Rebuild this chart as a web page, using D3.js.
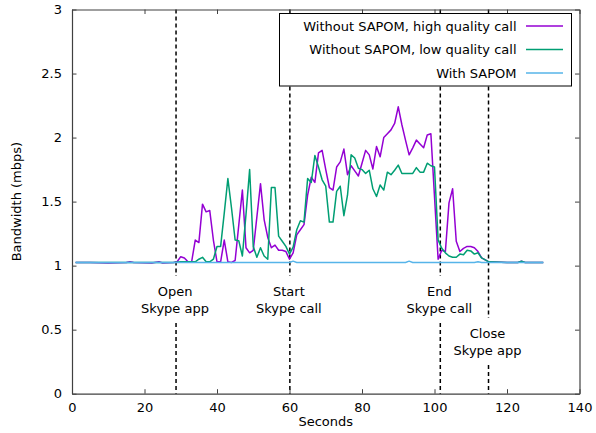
<!DOCTYPE html>
<html>
<head>
<meta charset="utf-8">
<script src="https://cdn.jsdelivr.net/npm/d3@7"></script>
<style>
  body { margin: 0; background: #fff; }
  svg text { font-family: "DejaVu Sans", sans-serif; fill: #000; }
</style>
</head>
<body>
<div id="chart"></div>
<script>
// Chart size
let w = 596;
let h = 433;
let margin = {top: 9.5, right: 16.5, bottom: 39.3, left: 72};
let fontSize = "13px";

// series: Without SAPOM, high quality call
let highT = [1, 5, 10, 15, 16, 17, 22, 24, 25, 28, 29, 30, 31, 32, 33, 34, 35, 36, 37, 38, 39, 40,
  41, 42, 43, 44, 45, 47, 48, 49, 50, 52, 53, 54, 55, 56, 57, 58, 59, 60, 61, 62, 63, 64, 65, 66,
  67, 68, 69, 70, 71, 72, 73, 74, 75, 76, 77, 78, 79, 80, 81, 82, 83, 84, 85, 86, 87, 88, 89, 90,
  91, 92, 93, 94, 95, 96, 97, 98, 99, 101, 102, 103, 104, 105, 106, 107, 108, 109, 110, 111, 112,
  113, 114, 115, 120, 123, 124, 125, 130];
let highV = [1.025, 1.025, 1.02, 1.025, 1.03, 1.025, 1.02, 1.03, 1.02, 1.025, 1.03, 1.07, 1.06, 1.03,
  1.03, 1.2, 1.18, 1.48, 1.42, 1.43, 1.2, 1.03, 1.03, 1.2, 1.03, 1.025, 1.04, 1.59, 1.14, 1.1, 1.12,
  1.64, 1.36, 1.22, 1.14, 1.16, 1.12, 1.12, 1.11, 1.05, 1.1, 1.24, 1.28, 1.32, 1.55, 1.69, 1.65, 1.88,
  1.9, 1.75, 1.61, 1.59, 1.77, 1.81, 1.91, 1.71, 1.78, 1.74, 1.7, 1.8, 1.9, 1.865, 1.755, 1.93, 1.85,
  2.0, 2.03, 2.06, 2.11, 2.24, 2.1, 1.98, 1.865, 1.92, 1.98, 1.95, 1.92, 2.02, 2.03, 1.05, 1.12, 1.11,
  1.49, 1.6, 1.19, 1.11, 1.135, 1.15, 1.15, 1.14, 1.11, 1.06, 1.045, 1.03, 1.025, 1.025, 1.035, 1.025,
  1.025];

// series: Without SAPOM, low quality call
let lowT = [1, 10, 20, 28, 30, 34, 35, 36, 37, 38, 39, 40, 41, 42, 43, 44, 45, 46, 47, 48, 49, 50,
  51, 52, 53, 54, 55, 56, 57, 58, 59, 60, 61, 62, 63, 64, 65, 66, 67, 68, 69, 70, 71, 72, 73, 74,
  75, 76, 77, 78, 79, 80, 81, 82, 83, 84, 85, 86, 87, 88, 89, 90, 91, 92, 93, 94, 95, 96, 97, 98,
  99, 100, 101, 102, 103, 104, 105, 106, 107, 108, 109, 110, 111, 112, 113, 114, 115, 120, 123,
  124, 125, 130];
let lowV = [1.025, 1.025, 1.025, 1.025, 1.03, 1.03, 1.05, 1.065, 1.03, 1.03, 1.05, 1.15, 1.15, 1.41,
  1.68, 1.45, 1.2, 1.195, 1.075, 1.4, 1.75, 1.15, 1.065, 1.14, 1.075, 1.05, 1.61, 1.61, 1.23, 1.19,
  1.15, 1.09, 1.145, 1.28, 1.35, 1.34, 1.68, 1.65, 1.86, 1.77, 1.67, 1.62, 1.34, 1.34, 1.58, 1.62,
  1.39, 1.55, 1.865, 1.84, 1.76, 1.75, 1.72, 1.745, 1.6, 1.54, 1.63, 1.59, 1.73, 1.71, 1.745, 1.785,
  1.72, 1.72, 1.72, 1.72, 1.765, 1.73, 1.73, 1.8, 1.78, 1.77, 1.2, 1.135, 1.1, 1.075, 1.065, 1.065,
  1.09, 1.085, 1.12, 1.115, 1.09, 1.1, 1.06, 1.045, 1.03, 1.025, 1.025, 1.035, 1.025, 1.025];

// series: With SAPOM
let sapomT = [1, 20, 40, 60, 61, 62, 92, 93, 94, 111, 112, 113, 130];
let sapomV = [1.025, 1.025, 1.025, 1.025, 1.035, 1.025, 1.025, 1.035, 1.025, 1.025, 1.03, 1.025, 1.025];

let seriesNames = ["Without SAPOM, high quality call", "Without SAPOM, low quality call", "With SAPOM"];
let seriesColors = ["#9400d3", "#009e73", "#56b4e9"];

// event markers
let eventT = [28.7, 60.1, 101.6, 114.9];
let eventLabels = [["Open", "Skype app"], ["Start", "Skype call"], ["End", "Skype call"], ["Close", "Skype app"]];
let eventLabelY = [296, 296, 296, 338];   // baseline of first label line

let xTicks = [0, 20, 40, 60, 80, 100, 120, 140];
let yTicks = [0, 0.5, 1, 1.5, 2, 2.5, 3];

var x = d3.scaleLinear().domain([0, 140]).range([margin.left, w - margin.right]);
var y = d3.scaleLinear().domain([0, 3]).range([h - margin.bottom, margin.top]);

var svg = d3.select("#chart").append("svg")
            .attr("width", w)
            .attr("height", h);

// dashed event lines, broken around their labels
eventT.forEach(function(t, i) {
    let top = eventLabelY[i] - 20;
    let bottom = eventLabelY[i] + 27;
    [[y(3), top], [bottom, y(0)]].forEach(function(seg) {
        svg.append("line")
           .attr("x1", x(t)).attr("x2", x(t))
           .attr("y1", seg[0]).attr("y2", seg[1])
           .attr("stroke", "#000")
           .attr("stroke-width", 1.5)
           .attr("stroke-dasharray", "4,3");
    });
    svg.append("text")
       .attr("text-anchor", "middle")
       .style("font-size", fontSize)
       .selectAll("tspan")
       .data(eventLabels[i])
       .enter()
       .append("tspan")
       .attr("x", x(t) - 1)
       .attr("y", function(d, j) { return eventLabelY[i] + j * 17; })
       .text(function(d) { return d; });
});

// series lines, plotted in legend order (later ones on top)
var line = d3.line()
             .x(function(d) { return x(d[0]); })
             .y(function(d) { return y(d[1]); });

let allSeries = [d3.zip(highT, highV), d3.zip(lowT, lowV), d3.zip(sapomT, sapomV)];

allSeries.forEach(function(s, i) {
    svg.append("path")
       .datum(s)
       .attr("d", line)
       .attr("fill", "none")
       .attr("stroke", seriesColors[i])
       .attr("stroke-width", 1.5)
       .attr("stroke-linejoin", "round");
});

// axes, ticks on all four sides pointing inward
var axisColor = "#404040";
var tickLen = 4.5;
var fmt = function(d) { return String(d); };

svg.append("g")
   .attr("transform", "translate(0," + y(0) + ")")
   .call(d3.axisBottom(x).tickValues(xTicks).tickSizeInner(-tickLen).tickSizeOuter(0).tickPadding(9).tickFormat(fmt))
   .call(styleAxis);
svg.append("g")
   .attr("transform", "translate(0," + y(3) + ")")
   .call(d3.axisTop(x).tickValues(xTicks).tickSizeInner(-tickLen).tickSizeOuter(0).tickFormat(""))
   .call(styleAxis);
svg.append("g")
   .attr("transform", "translate(" + x(0) + ",0)")
   .call(d3.axisLeft(y).tickValues(yTicks).tickSizeInner(-tickLen).tickSizeOuter(0).tickPadding(10).tickFormat(fmt))
   .call(styleAxis);
svg.append("g")
   .attr("transform", "translate(" + x(140) + ",0)")
   .call(d3.axisRight(y).tickValues(yTicks).tickSizeInner(-tickLen).tickSizeOuter(0).tickFormat(""))
   .call(styleAxis);

function styleAxis(g) {
    g.select(".domain").attr("stroke", axisColor).attr("stroke-width", 1.2);
    g.selectAll(".tick line").attr("stroke", axisColor).attr("stroke-width", 1);
    g.selectAll(".tick text")
     .style("font-family", "DejaVu Sans, sans-serif")
     .style("font-size", fontSize)
     .attr("fill", "#000");
}

// axis titles
svg.append("text")
   .attr("text-anchor", "middle")
   .style("font-size", fontSize)
   .attr("x", (x(0) + x(140)) / 2)
   .attr("y", 426)
   .text("Seconds");

svg.append("text")
   .attr("text-anchor", "middle")
   .style("font-size", fontSize)
   .attr("transform", "translate(21," + y(1.5) + ") rotate(-90)")
   .text("Bandwidth (mbps)");

// legend
var legend = svg.append("g");
legend.append("rect")
      .attr("x", 279.5).attr("y", 13.5)
      .attr("width", 292).attr("height", 72.5)
      .attr("fill", "#fff")
      .attr("stroke", "#000")
      .attr("stroke-width", 1);

seriesNames.forEach(function(name, i) {
    let ly = 26 + i * 23.5;
    legend.append("text")
          .attr("x", 516.5)
          .attr("y", ly + 4.5)
          .attr("text-anchor", "end")
          .style("font-size", fontSize)
          .text(name);
    legend.append("line")
          .attr("x1", 526).attr("x2", 563)
          .attr("y1", ly).attr("y2", ly)
          .attr("stroke", seriesColors[i])
          .attr("stroke-width", 1.5);
});
</script>
</body>
</html>
